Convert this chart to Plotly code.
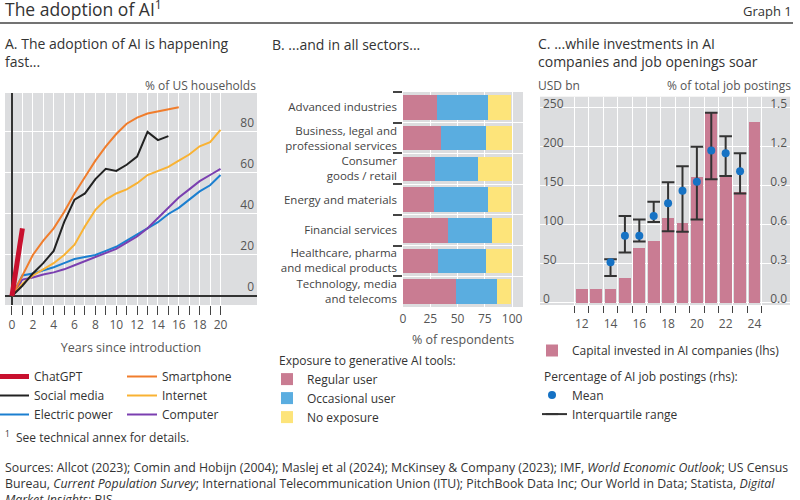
import plotly.graph_objects as go

W, H = 800, 500
FONT = "Open Sans"
TXT = "#333333"
LBL = "#555555"
BG = "#DCDDDF"

def fx(px):
    return px / W

def fy(py):
    return 1 - py / H

# ---------------- Panel A data ----------------
chatgpt_years = [0, 1]
chatgpt = [0, 33]
social_years = list(range(0, 16))
social = [0, 5, 11, 16, 22, 36, 47, 50, 57, 62, 61, 64, 68, 80, 76, 78]
smart_years = list(range(0, 17))
smart = [0, 10, 20, 27, 33, 41, 50, 58, 66, 73, 79, 84, 87, 89, 90, 91, 92]
long_years = list(range(0, 21))
internet = [0, 6, 10, 13, 16, 20, 25, 34, 42, 47, 50, 52, 55, 59, 61, 63, 66, 69, 73, 75, 81]
electric = [0, 10, 11, 12.5, 14, 16, 18, 19, 20, 22, 24, 27, 30, 33, 36, 40, 43, 47, 51, 54, 59]
computer = [0, 8, 9, 10.5, 11.5, 13, 15, 17, 19, 21, 23, 26, 29, 33, 38, 43, 48, 52, 56, 59, 62]
a_xticks = list(range(0, 21))
a_xlabels = [str(v) if v % 2 == 0 else "" for v in a_xticks]
a_yticks = [0, 20, 40, 60, 80]

# ---------------- Panel B data ----------------
sectors = [
    "Advanced industries",
    "Business, legal and<br>professional services",
    "Consumer<br>goods / retail",
    "Energy and materials",
    "Financial services",
    "Healthcare, pharma<br>and medical products",
    "Technology, media<br>and telecoms",
]
regular = [31, 35, 29, 28, 41, 32, 49]
occasional = [47, 41, 40, 50, 41, 44, 37]
no_exposure = [21, 24, 31, 21, 18, 24, 13]
b_xticks = [0, 25, 50, 75, 100]

# ---------------- Panel C data ----------------
c_years = list(range(12, 25))
capital = [17, 17, 17, 31, 70, 79, 108, 102, 161, 245, 162, 142, 232]
job_years = list(range(14, 24))
job_mean = [0.31, 0.515, 0.515, 0.667, 0.765, 0.86, 0.93, 1.17, 1.15, 1.01]
job_q1 = [0.205, 0.385, 0.47, 0.62, 0.55, 0.546, 0.64, 0.95, 0.975, 0.84]
job_q3 = [0.334, 0.667, 0.64, 0.777, 0.926, 1.05, 1.2, 1.46, 1.28, 1.15]
c_boundaries = [y - 0.5 for y in c_years] + [c_years[-1] + 0.5]
c_xlabels = [12, 14, 16, 18, 20, 22, 24]
c_lticks = [0, 50, 100, 150, 200, 250]
c_rticks = [0, 0.3, 0.6, 0.9, 1.2, 1.5]

fig = go.Figure()

# Panel A traces: (name, x, y, colour, width, legend, legend rank)
lineA = [
    ("ChatGPT", chatgpt_years, chatgpt, "#C8102E", 5, "legend", 1),
    ("Social media", social_years, social, "#222222", 2, "legend", 2),
    ("Electric power", long_years, electric, "#1B7FD0", 2, "legend", 3),
    ("Smartphone", smart_years, smart, "#F07D2C", 2, "legend2", 1),
    ("Internet", long_years, internet, "#F9B233", 2, "legend2", 2),
    ("Computer", long_years, computer, "#7B3FB0", 2, "legend2", 3),
]
draw_order = ["Electric power", "Computer", "Internet", "Smartphone", "Social media", "ChatGPT"]
for name in draw_order:
    for n, xs, ys, col, w, lg, rk in lineA:
        if n == name:
            fig.add_trace(go.Scatter(x=xs, y=ys, mode="lines", name=n,
                                     line=dict(color=col, width=w), legend=lg,
                                     legendrank=rk,
                                     xaxis="x", yaxis="y", hoverinfo="skip"))

# Panel B traces
for rk, (name, vals, col) in enumerate([("Regular user", regular, "#C97C92"),
                                        ("Occasional user", occasional, "#5AADE0"),
                                        ("No exposure", no_exposure, "#FDE47A")]):
    fig.add_trace(go.Bar(y=sectors, x=vals, orientation="h", name=name,
                         marker=dict(color=col, line=dict(width=0)), width=0.8,
                         legend="legend3", legendrank=rk + 1, xaxis="x2", yaxis="y2"))

# Panel C traces
fig.add_trace(go.Bar(x=c_years, y=capital, name="Capital invested in AI companies (lhs)",
                     marker=dict(color="#C97C93", line=dict(width=0)), width=0.82,
                     legend="legend4", xaxis="x3", yaxis="y3"))
iqr_x, iqr_y = [], []
for yr, lo, hi in zip(job_years, job_q1, job_q3):
    iqr_x += [yr, yr, None]
    iqr_y += [lo, hi, None]
fig.add_trace(go.Scatter(x=iqr_x, y=iqr_y, mode="lines+markers", name="Interquartile range",
                         line=dict(color="#333333", width=2),
                         marker=dict(symbol="line-ew-open", size=9,
                                     line=dict(color="#333333", width=2)),
                         legend="legend5", legendrank=2, xaxis="x4", yaxis="y4"))
fig.add_trace(go.Scatter(x=job_years, y=job_mean, mode="markers", name="Mean",
                         marker=dict(color="#1672C4", size=8),
                         legend="legend5", legendrank=1, xaxis="x4", yaxis="y4"))

tickfont = dict(family=FONT, size=12, color=LBL)

a_xr = [-0.67, 23.5]
a_yr = [-4.4, 99]
c_xr = [9.1, 26.47]
c_yr = [-3, 264]
c_yr2 = [c_yr[0] * 1.5 / 250, c_yr[1] * 1.5 / 250]

legfont = dict(family=FONT, size=12, color=TXT)
clear = "rgba(0,0,0,0)"

fig.update_layout(
    width=W, height=H,
    margin=dict(l=0, r=0, t=0, b=0, autoexpand=False),
    paper_bgcolor="white", plot_bgcolor=BG,
    font=dict(family=FONT, size=12, color=TXT),
    barmode="stack",
    hovermode=False,
    xaxis=dict(domain=[fx(5), fx(257)], anchor="y", range=a_xr,
               tickmode="array", tickvals=a_xticks, ticktext=a_xlabels,
               ticks="outside", ticklen=9, tickwidth=1.3, tickcolor="#444",
               showgrid=True, gridcolor="white", gridwidth=1,
               zeroline=True, zerolinecolor="#333", zerolinewidth=1.5,
               showline=False, tickfont=tickfont,
               title=dict(text="Years since introduction",
                          font=dict(family=FONT, size=12.5, color=LBL), standoff=10)),
    yaxis=dict(domain=[fy(305), fy(93)], anchor="x", range=a_yr, side="right",
               tickmode="array", tickvals=a_yticks, ticklabelposition="inside",
               ticklabelshift=-9, ticklabeloverflow="allow", ticks="",
               showgrid=True, gridcolor="white", gridwidth=1,
               zeroline=True, zerolinecolor="#333", zerolinewidth=1.5,
               showline=False, tickfont=tickfont),
    xaxis2=dict(domain=[fx(403), fx(523)], anchor="y2", range=[0, 110],
                tickmode="array", tickvals=b_xticks, ticks="outside", ticklen=1,
                tickcolor=clear,
                showgrid=True, gridcolor="white", zeroline=False, showline=False,
                tickfont=tickfont,
                title=dict(text="% of respondents",
                           font=dict(family=FONT, size=12.5, color=LBL), standoff=8)),
    yaxis2=dict(domain=[fy(307), fy(92)], anchor="x2", type="category",
                categoryorder="array", categoryarray=sectors, range=[6.5, -0.5],
                tickson="boundaries", ticks="outside", ticklen=9, tickwidth=1.5, tickcolor="#444",
                ticklabelstandoff=5,
                showgrid=True, gridcolor="white", zeroline=False, showline=False,
                tickfont=dict(family=FONT, size=11.5, color="#444")),
    xaxis3=dict(domain=[fx(540), fx(790)], anchor="y3", range=c_xr,
                tickmode="array", tickvals=c_boundaries, showticklabels=False,
                ticks="outside", ticklen=7, tickwidth=1.3, tickcolor="#444",
                showgrid=True, gridcolor="white", zeroline=False, showline=False),
    xaxis4=dict(overlaying="x3", anchor="y4", range=c_xr,
                tickmode="array", tickvals=c_xlabels, ticks="outside", ticklen=8,
                tickcolor=clear,
                showgrid=False, zeroline=False, showline=False, tickfont=tickfont),
    yaxis3=dict(domain=[fy(305), fy(96.7)], anchor="x3", range=c_yr,
                tickmode="array", tickvals=c_lticks, ticklabelposition="inside",
                ticklabelshift=-4, ticklabeloverflow="allow", ticks="",
                showgrid=True, gridcolor="white", zeroline=False, showline=False,
                tickfont=tickfont),
    yaxis4=dict(overlaying="y3", anchor="x4", side="right", range=c_yr2,
                tickmode="array", tickvals=c_rticks,
                ticktext=["%.1f" % v for v in c_rticks],
                ticklabelposition="inside", ticklabelshift=-4, ticklabeloverflow="allow",
                ticks="", showgrid=False, zeroline=False, showline=False, tickfont=tickfont),
    legend=dict(x=0, y=fy(362), xanchor="left", yanchor="top", indentation=-6,
                bgcolor=clear, font=legfont, itemwidth=30, tracegroupgap=0),
    legend2=dict(x=fx(122), y=fy(362), xanchor="left", yanchor="top",
                 bgcolor=clear, font=legfont, itemwidth=30, tracegroupgap=0),
    legend3=dict(x=fx(277), y=fy(349), xanchor="left", yanchor="top", indentation=-10,
                 bgcolor=clear, font=legfont, traceorder="normal",
                 title=dict(text="Exposure to generative AI tools:", font=legfont),
                 itemwidth=30, tracegroupgap=0),
    legend4=dict(x=fx(540), y=fy(336), xanchor="left", yanchor="top", indentation=-8,
                 bgcolor=clear, font=legfont, itemwidth=30),
    legend5=dict(x=fx(542), y=fy(365), xanchor="left", yanchor="top", indentation=-10,
                 bgcolor=clear, font=legfont,
                 title=dict(text="Percentage of AI job postings (rhs):", font=legfont),
                 itemwidth=30, tracegroupgap=0),
)

ann = []
def add_text(text, x, y, size=12, color=TXT, xanchor="left", yanchor="middle"):
    ann.append(dict(text=text, x=fx(x), y=fy(y), xref="paper", yref="paper",
                    xanchor=xanchor, yanchor=yanchor, showarrow=False,
                    font=dict(family=FONT, size=size, color=color), align="left"))

add_text("The adoption of AI<sup>1</sup>", 3, 8, size=17.5)
add_text("Graph 1", 794, 11, size=13, xanchor="right")
add_text("A. The adoption of AI is happening<br>fast...", 3, 53, size=14)
add_text("B. ...and in all sectors...", 270, 45, size=14)
add_text("C. ...while investments in AI<br>companies and job openings soar", 536, 53, size=14)
add_text("% of US households", 258, 85, size=12, color=LBL, xanchor="right")
add_text("USD bn", 536, 85, size=12, color=LBL)
add_text("% of total job postings", 793, 85, size=12, color=LBL, xanchor="right")
add_text("<sup>1</sup>  See technical annex for details.", 3, 437, size=12)
sources = ("Sources: Allcot (2023); Comin and Hobijn (2004); Maslej et al (2024); McKinsey &amp; Company (2023); "
           "IMF, <i>World Economic Outlook</i>; US Census<br>"
           "Bureau, <i>Current Population Survey</i>; International Telecommunication Union (ITU); "
           "PitchBook Data Inc; Our World in Data; Statista, <i>Digital</i><br>"
           "<i>Market Insights</i>; BIS.")
add_text(sources, 3, 457, size=12.3, yanchor="top")

fig.update_layout(annotations=ann,
                  shapes=[dict(type="line", xref="paper", yref="paper",
                               x0=0, x1=fx(793), y0=fy(23), y1=fy(23),
                               line=dict(color="#444", width=1.5))])

fig.write_html("out.html", config={"displayModeBar": False},
               post_script="document.body.style.margin='0px';")
